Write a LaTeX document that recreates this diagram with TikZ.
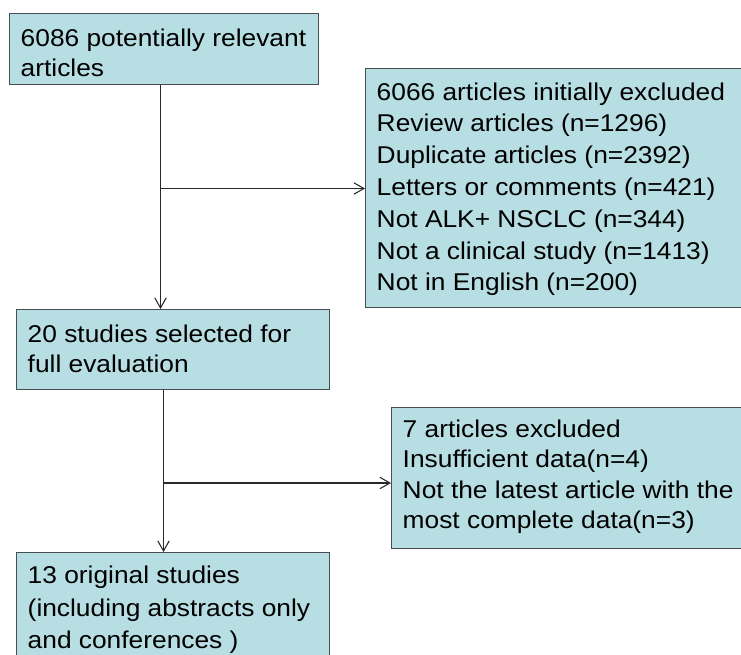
\documentclass[tikz,border=0pt]{standalone}
\usepackage{fontspec}
\setmainfont{Liberation Sans}[FakeStretch=1.085]
\usetikzlibrary{arrows.meta}
\definecolor{boxfill}{RGB}{183,222,227}
\definecolor{boxline}{RGB}{70,78,80}
\definecolor{arrowline}{RGB}{40,40,40}
% #1 width, #2 height, #3 first-baseline depth, #4 baselineskip, #5 lines
\newcommand{\flowtext}[5]{\parbox[b][#2][t]{#1}{\fontsize{18.2pt}{#4}\selectfont\raggedright\leftskip=8.25pt\rule{0pt}{#3}#5}}
\begin{document}
\begin{tikzpicture}[x=0.75pt,y=-0.75pt,
  flowbox/.style={draw=boxline, fill=boxfill, line width=1.1pt, inner sep=0pt, anchor=north west},
  flowarrow/.style={draw=arrowline, line width=0.8pt, -{Straight Barb[length=7.5pt,width=8.5pt,line width=0.8pt]}}]
\useasboundingbox (0,0) rectangle (741,654);
\clip (0,0) rectangle (741,654);
\node[flowbox] (b1) at (9,13) {\flowtext{231.75pt}{53.25pt}{24.75pt}{22.5pt}{6086 potentially relevant\\articles}};
\node[flowbox] (b2) at (365,68) {\flowtext{288.75pt}{179.25pt}{23.5pt}{23.85pt}{6066 articles initially excluded\\Review articles (n=1296)\\Duplicate articles (n=2392)\\Letters or comments (n=421)\\Not ALK+ NSCLC (n=344)\\Not a clinical study (n=1413)\\Not in English (n=200)}};
\node[flowbox] (b3) at (16,309) {\flowtext{234.75pt}{60pt}{24.5pt}{22.5pt}{20 studies selected for\\full evaluation}};
\node[flowbox] (b4) at (391,407) {\flowtext{270pt}{105.75pt}{22.3pt}{22.8pt}{7 articles excluded\\Insufficient data(n=4)\\Not the latest article with the\\most complete data(n=3)}};
\node[flowbox] (b5) at (16,552) {\flowtext{234.75pt}{87pt}{23.25pt}{24.2pt}{13 original studies\\(including abstracts only\\and conferences )}};
\coordinate (j1) at (160.5,188.5);
\coordinate (j2) at (163.5,483);
\draw[flowarrow] (b1.south -| j1) -- (b3.north -| j1);
\draw[flowarrow] (j1) -- (j1 -| b2.west);
\draw[flowarrow] (b3.south -| j2) -- (b5.north -| j2);
\draw[flowarrow] (j2) -- (j2 -| b4.west);
\end{tikzpicture}
\end{document}
